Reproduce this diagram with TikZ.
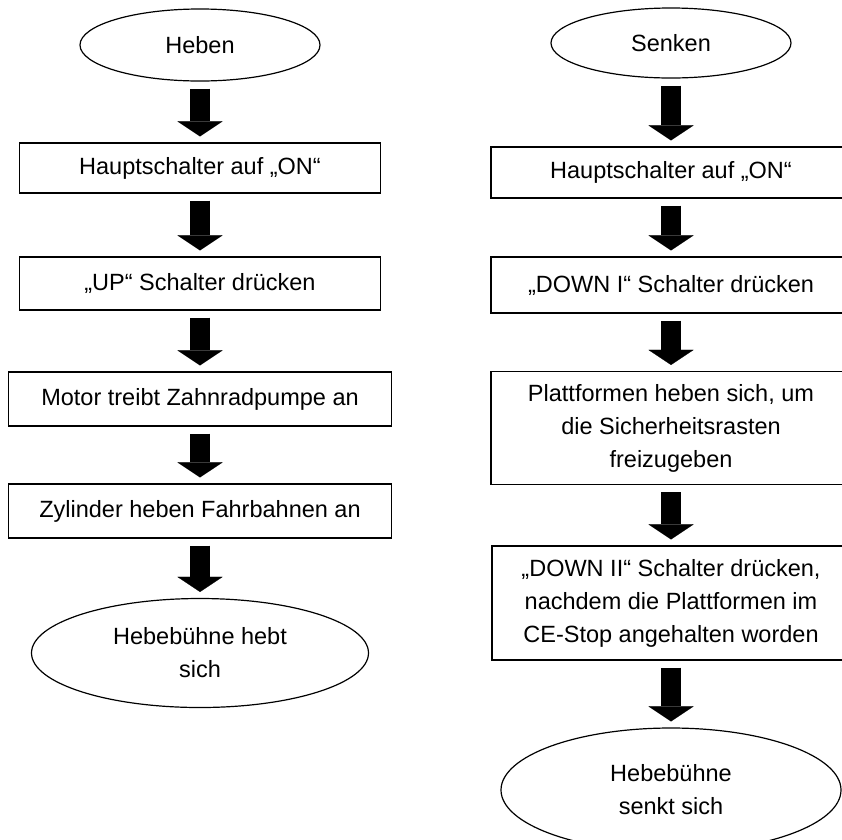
\documentclass[tikz,border=0pt]{standalone}
\usepackage{fontspec}
\setmainfont{Liberation Sans}
\usetikzlibrary{shapes.geometric,arrows.meta}

\tikzset{
  etape/.style={draw, line width=1.2pt, rectangle, inner sep=0pt, align=center,
    minimum width=361pt, minimum height=50pt, font=\fontsize{23.5}{33}\selectfont},
  bout/.style={draw, line width=1.2pt, ellipse, inner sep=0pt, align=center,
    font=\fontsize{23.5}{33}\selectfont},
  fleche/.style={line width=20pt, -{Triangle[width=45pt,length=15pt,line width=0.1pt]},
    shorten <=7pt, shorten >=6pt}
}

\begin{document}
\begin{tikzpicture}[x=1pt, y=-1pt]
            \useasboundingbox (0,0) rectangle (842,839);

            % Colonne de gauche : Heben
            \node[bout, minimum width=240pt, minimum height=72pt] (heben) at (200,45) {Heben};
            \node[etape] (h1) at (200,168) {Hauptschalter auf „ON“};
            \node[etape, minimum height=53pt] (h2) at (200,283.5) {„UP“ Schalter drücken};
            \node[etape, minimum width=383pt, minimum height=54pt] (h3) at (200,399) {Motor treibt Zahnradpumpe an};
            \node[etape, minimum width=383pt, minimum height=54pt] (h4) at (200,511) {Zylinder heben Fahrbahnen an};
            \node[bout, minimum width=337pt, minimum height=109pt] (hfin) at (200,653) {Hebebühne hebt\\sich};

            % Colonne de droite : Senken
            \node[bout, minimum width=240pt, minimum height=70pt] (senken) at (671,43) {Senken};
            \node[etape, minimum width=360pt, minimum height=51pt] (s1) at (671,172.5) {Hauptschalter auf „ON“};
            \node[etape, minimum width=360pt, minimum height=56pt] (s2) at (671,285) {„DOWN I“ Schalter drücken};
            \node[etape, minimum width=360pt, minimum height=113pt] (s3) at (671,428) {Plattformen heben sich, um\\die Sicherheitsrasten\\freizugeben};
            \node[etape, minimum width=358pt, minimum height=114pt] (s4) at (671,603) {„DOWN II“ Schalter drücken,\\nachdem die Plattformen im\\CE-Stop angehalten worden};
            \node[bout, minimum width=340pt, minimum height=124pt] (sfin) at (671,790) {Hebebühne\\senkt sich};

            % Les flèches
            \draw[fleche] (heben) -- (h1);
            \draw[fleche] (h1) -- (h2);
            \draw[fleche] (h2) -- (h3);
            \draw[fleche] (h3) -- (h4);
            \draw[fleche] (h4) -- (hfin);

            \draw[fleche] (senken) -- (s1);
            \draw[fleche] (s1) -- (s2);
            \draw[fleche] (s2) -- (s3);
            \draw[fleche] (s3) -- (s4);
            \draw[fleche] (s4) -- (sfin);
        \end{tikzpicture}
\end{document}
